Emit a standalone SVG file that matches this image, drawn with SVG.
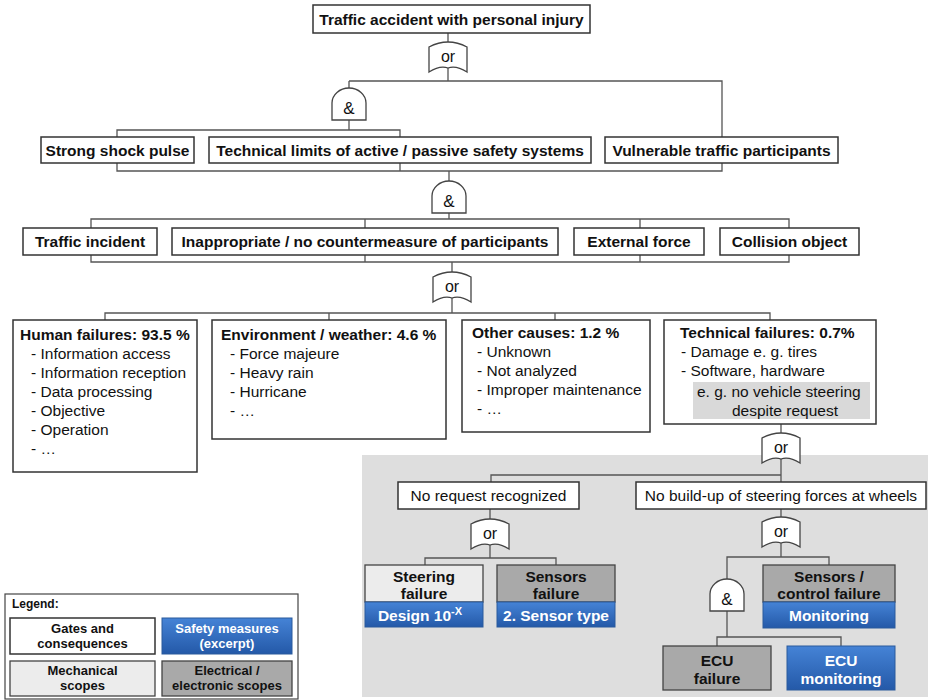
<svg xmlns="http://www.w3.org/2000/svg" width="928" height="700" viewBox="0 0 928 700">
<defs>
<linearGradient id="blue" x1="0" y1="0" x2="0" y2="1">
<stop offset="0" stop-color="#4583d6"/>
<stop offset="1" stop-color="#2459a8"/>
</linearGradient>
<path id="g-or" d="M0,7 Q19,-3 38,7 L38,32 Q27,25 19,28 Q11,25 0,32 Z"/>
<path id="g-and" d="M0,32 V15 A17,15 0 0 1 34,15 V32 Z"/>
</defs>
<style>
text{font-family:"Liberation Sans",Arial,sans-serif;fill:#111;}
.b{font-weight:bold;font-size:15.5px;}
.r{font-size:15.5px;}
.c{text-anchor:middle;}
.w{fill:#fff;}
.box{fill:#fff;stroke:#333;stroke-width:1.5;}
.mech{fill:#ececec;stroke:#444;stroke-width:1.3;}
.elec{fill:#a9a9a9;stroke:#444;stroke-width:1.3;}
.safe{fill:url(#blue);stroke:#2a5a9c;stroke-width:1;}
.gate{fill:#fff;stroke:#444;stroke-width:1.3;}
.gt{font-size:16px;text-anchor:middle;}
.conn{fill:none;stroke:#555;stroke-width:1.3;}
.lg{font-weight:bold;font-size:13px;text-anchor:middle;}
</style>
<rect x="362" y="455" width="566" height="242" fill="#dedede"/>
<g id="connectors" class="conn">
<path d="M448,33V42M448,68V81M349,81H722V137M349,81V88M349,120V130M117,137V130H400V137"/>
<path d="M117,163V171H722V163M400,163V171M449,171V181M449,213V219M91,228V219H789V228M365,219V228M640,219V228"/>
<path d="M91,255V262H789V255M365,255V262M640,255V262M452,262V272M452,298V313M105,320V313H770V320M329,313V320M555,313V320"/>
<path d="M781,424V433M781,459V482M491,482V475H781M490,509V519M490,545V558M425,565V558H556V565"/>
<path d="M781,509V517M781,543V557M727,579V557H829V565M727,611V637M717,646V637H841V646"/>
</g>
<g id="n-top"><rect class="box" x="313" y="5" width="277" height="28"/><text class="b c" x="451.5" y="25">Traffic accident with personal injury</text></g>
<g id="g1"><use href="#g-or" class="gate" x="429" y="40"/><text class="gt" x="448" y="62">or</text></g>
<g id="g2"><use href="#g-and" class="gate" x="332" y="88"/><text class="gt" x="349" y="114" style="font-size:17px">&amp;</text></g>
<g id="n-shock"><rect class="box" x="41" y="137" width="153" height="26"/><text class="b c" x="117.5" y="156">Strong shock pulse</text></g>
<g id="n-limits"><rect class="box" x="209" y="137" width="382" height="26"/><text class="b c" x="400" y="156">Technical limits of active / passive safety systems</text></g>
<g id="n-vuln"><rect class="box" x="605" y="137" width="233" height="26"/><text class="b c" x="721.5" y="156">Vulnerable traffic participants</text></g>
<g id="g3"><use href="#g-and" class="gate" x="432" y="181"/><text class="gt" x="449" y="207" style="font-size:17px">&amp;</text></g>
<g id="n-incident"><rect class="box" x="23" y="228" width="134" height="27"/><text class="b c" x="90" y="247">Traffic incident</text></g>
<g id="n-counter"><rect class="box" x="172" y="228" width="386" height="27"/><text class="b c" x="365" y="247">Inappropriate / no countermeasure of participants</text></g>
<g id="n-ext"><rect class="box" x="574" y="228" width="130" height="27"/><text class="b c" x="639" y="247">External force</text></g>
<g id="n-coll"><rect class="box" x="720" y="228" width="139" height="27"/><text class="b c" x="789.5" y="247">Collision object</text></g>
<g id="g4"><use href="#g-or" class="gate" x="433" y="270"/><text class="gt" x="452" y="292">or</text></g>
<g id="n-human"><rect class="box" x="13" y="320" width="184" height="152"/>
<text class="b" x="20" y="340">Human failures: 93.5 %</text>
<text class="r" x="31" y="359">- Information access</text>
<text class="r" x="31" y="378">- Information reception</text>
<text class="r" x="31" y="397">- Data processing</text>
<text class="r" x="31" y="416">- Objective</text>
<text class="r" x="31" y="435">- Operation</text>
<text class="r" x="31" y="454">- …</text></g>
<g id="n-env"><rect class="box" x="212" y="320" width="234" height="119"/>
<text class="b" x="221" y="340">Environment / weather: 4.6 %</text>
<text class="r" x="230" y="359">- Force majeure</text>
<text class="r" x="230" y="378">- Heavy rain</text>
<text class="r" x="230" y="397">- Hurricane</text>
<text class="r" x="230" y="416">- …</text></g>
<g id="n-other"><rect class="box" x="462" y="320" width="188" height="112"/>
<text class="b" x="472" y="338">Other causes: 1.2 %</text>
<text class="r" x="477" y="357">- Unknown</text>
<text class="r" x="477" y="376">- Not analyzed</text>
<text class="r" x="477" y="395">- Improper maintenance</text>
<text class="r" x="477" y="414">- …</text></g>
<g id="n-tech"><rect class="box" x="664" y="320" width="212" height="104"/>
<rect x="693" y="382" width="177" height="37" fill="#d9d9d9"/>
<text class="b" x="680" y="338">Technical failures: 0.7%</text>
<text class="r" x="681" y="357">- Damage e. g. tires</text>
<text class="r" x="681" y="376">- Software, hardware</text>
<text class="r" x="697" y="397">e. g.  no vehicle steering</text>
<text class="r" x="732" y="416">despite request</text></g>
<g id="g5"><use href="#g-or" class="gate" x="762" y="431"/><text class="gt" x="781" y="453">or</text></g>
<g id="n-noreq"><rect class="box" x="398" y="482" width="181" height="27"/><text class="r c" x="488.5" y="501">No request recognized</text></g>
<g id="n-nobuild"><rect class="box" x="636" y="482" width="290" height="27"/><text class="r c" x="781" y="501">No build-up of steering forces at wheels</text></g>
<g id="g6"><use href="#g-or" class="gate" x="471" y="517"/><text class="gt" x="490" y="539">or</text></g>
<g id="g7"><use href="#g-or" class="gate" x="762" y="515"/><text class="gt" x="781" y="537">or</text></g>
<g id="n-steer"><rect class="mech" x="365" y="565" width="118" height="37"/><rect class="safe" x="365" y="602" width="118" height="25"/>
<text class="b c" x="424" y="582">Steering</text><text class="b c" x="424" y="599">failure</text>
<text class="b c w" x="420" y="621">Design 10<tspan dy="-6" font-size="11">-X</tspan></text></g>
<g id="n-sensors"><rect class="elec" x="497" y="565" width="118" height="37"/><rect class="safe" x="497" y="602" width="118" height="25"/>
<text class="b c" x="556" y="582">Sensors</text><text class="b c" x="556" y="599">failure</text>
<text class="b c w" x="556" y="621">2. Sensor type</text></g>
<g id="g8"><use href="#g-and" class="gate" x="710" y="579"/><text class="gt" x="727" y="605" style="font-size:17px">&amp;</text></g>
<g id="n-sensctl"><rect class="elec" x="763" y="565" width="132" height="37"/><rect class="safe" x="763" y="602" width="132" height="26"/>
<text class="b c" x="829" y="582">Sensors /</text><text class="b c" x="829" y="599">control failure</text>
<text class="b c w" x="829" y="621">Monitoring</text></g>
<g id="n-ecu"><rect class="elec" x="663" y="646" width="108" height="44"/>
<text class="b c" x="717" y="666">ECU</text><text class="b c" x="717" y="684">failure</text></g>
<g id="n-ecumon"><rect class="safe" x="787" y="646" width="108" height="44"/>
<text class="b c w" x="841" y="666">ECU</text><text class="b c w" x="841" y="684">monitoring</text></g>
<g id="legend">
<rect x="5" y="594" width="293" height="105" fill="#fff" stroke="#444" stroke-width="1.2"/>
<text x="12" y="608" style="font-weight:bold;font-size:12px">Legend:</text>
<rect class="box" x="10" y="618" width="145" height="36"/>
<text class="lg" x="82.5" y="633">Gates and</text><text class="lg" x="82.5" y="648">consequences</text>
<rect class="safe" x="162" y="618" width="130" height="36"/>
<text class="lg w" x="227" y="633">Safety measures</text><text class="lg w" x="227" y="648">(excerpt)</text>
<rect class="mech" x="10" y="661" width="145" height="35"/>
<text class="lg" x="82.5" y="675">Mechanical</text><text class="lg" x="82.5" y="690">scopes</text>
<rect class="elec" x="162" y="661" width="130" height="35"/>
<text class="lg" x="227" y="675">Electrical /</text><text class="lg" x="227" y="690">electronic scopes</text>
</g>
</svg>
